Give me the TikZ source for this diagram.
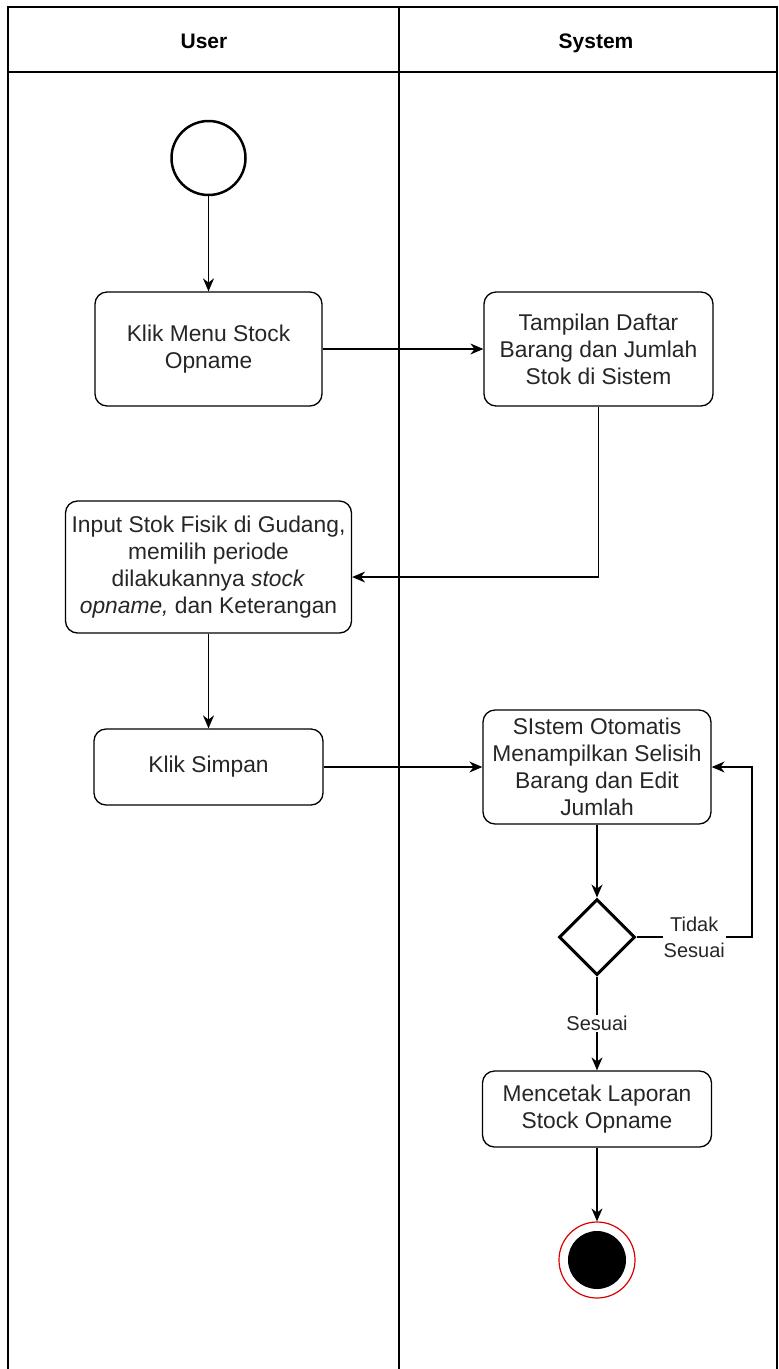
\documentclass[tikz,border=0pt]{standalone}
\usepackage{fontspec}
\setmainfont{Liberation Sans}
\usetikzlibrary{arrows.meta,shapes.geometric}
\begin{document}
\begin{tikzpicture}[x=1pt,y=-1pt,
  act/.style={draw, rounded corners=12pt, line width=1.3pt, align=center, inner sep=0pt, text=black!85, font=\fontsize{22.8}{27}\selectfont},
  flow/.style={line width=1.3pt, -{Stealth[length=13pt,width=11pt]}},
  lane/.style={line width=1.3pt},
  hdr/.style={anchor=base, font=\bfseries\fontsize{21}{24}\selectfont},
  lbl/.style={fill=white, align=center, text=black!85, font=\fontsize{20}{26}\selectfont, inner sep=1pt}]
\useasboundingbox (0,0) rectangle (779,1369);
\draw[lane] (8,1369) -- (8,7) -- (777,7) -- (777,1369);
\draw[lane] (8,72) -- (777,72);
\draw[lane] (399,7) -- (399,1369);
\node[hdr] (hu) at (204,48) {User};
\node[hdr] (hs) at (596,48) {System};

\node[circle, draw, line width=2.5pt, minimum size=74pt, inner sep=0pt] (s) at (208.5,158) {};
\node[act, minimum width=227pt, minimum height=114pt] (b1) at (208.5,349) {Klik Menu Stock\\Opname};
\node[act, minimum width=229pt, minimum height=114pt] (b2) at (598.5,349) {Tampilan Daftar\\Barang dan Jumlah\\Stok di Sistem};
\node[act, minimum width=286pt, minimum height=132pt] (b3) at (208.5,567) {Input Stok Fisik di Gudang,\\memilih periode\\dilakukannya \textit{stock}\\\textit{opname,} dan Keterangan};
\node[act, minimum width=229pt, minimum height=76pt] (b4) at (208.5,767) {Klik Simpan};
\node[act, minimum width=228pt, minimum height=114pt] (b5) at (597,767) {SIstem Otomatis\\Menampilkan Selisih\\Barang dan Edit\\Jumlah};
\node[diamond, draw, line width=3pt, minimum width=76pt, minimum height=76pt, inner sep=0pt] (d) at (597,937) {};
\node[act, minimum width=229pt, minimum height=76pt] (b6) at (597,1109) {Mencetak Laporan\\Stock Opname};
\node[circle, draw=red!85!black, line width=1.2pt, minimum size=76pt, inner sep=0pt] (e) at (597,1260) {};
\node[circle, fill=black, minimum size=58pt, inner sep=0pt] (ei) at (e) {};
\coordinate (lp) at (752,937);

\draw[flow] (s) -- (b1);
\draw[flow] (b1) -- (b2);
\draw[flow] (b2.south) |- ([yshift=-10pt]b3.east);
\draw[flow] (b3.south) -- (b4.north);
\draw[flow] (b4.east) -- (b5.west);
\draw[flow] (b5.south) -- (d.north);
\draw[flow] (d.east) -- node[lbl] {Tidak\\Sesuai} (lp) |- (b5.east);
\draw[flow] (d.south) -- node[lbl] {Sesuai} (b6.north);
\draw[flow] (b6.south) -- (e.north);
\end{tikzpicture}
\end{document}
